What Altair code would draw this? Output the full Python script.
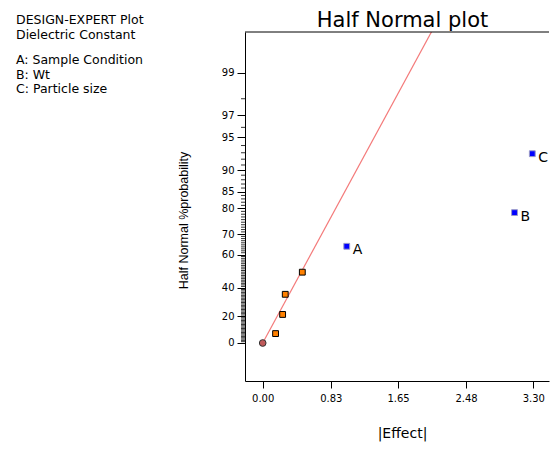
import altair as alt
import pandas as pd
from statistics import NormalDist

# ---- data ----
effects = [0.00, 0.157, 0.243, 0.275, 0.483, 1.025, 3.071, 3.288]
probs = [0.0, 7.14, 21.43, 35.71, 50.00, 64.29, 78.57, 92.86]
kinds = ["origin", "error", "error", "error", "error", "term", "term", "term"]
terms = ["", "", "", "", "", "A", "B", "C"]

line_effect = [0.0, 2.10]
line_pct = [0.0, 99.75]

y_tick_pct = [0, 20, 40, 60, 70, 80, 85, 90, 95, 97, 99]
minor_tick_pct = [p for p in range(1, 99) if p not in y_tick_pct]
x_ticks = [0.00, 0.83, 1.65, 2.48, 3.30]

header_lines = ["DESIGN-EXPERT Plot", "Dielectric Constant"]
factor_lines = ["A: Sample Condition", "B: Wt", "C: Particle size"]
chart_title = "Half Normal plot"
x_title = "|Effect|"
y_title = "Half Normal %probability"

nd = NormalDist()


def hn(p):
    return nd.inv_cdf(0.5 + p / 200.0)


df = pd.DataFrame({
    "effect": effects,
    "z": [hn(p) for p in probs],
    "kind": kinds,
    "term": terms,
})
line_df = pd.DataFrame({"effect": line_effect, "z": [hn(p) for p in line_pct]})
minor_df = pd.DataFrame({"z": [hn(p) for p in minor_tick_pct]})

y_tick_z = [hn(p) for p in y_tick_pct]
label_map = ", ".join(f"'{z:.4f}': '{p}'" for z, p in zip(y_tick_z, y_tick_pct))
label_expr = "{" + label_map + "}[format(datum.value, '.4f')]"

W, H = 304, 349
PX_PER_UNIT = 82.0
X0 = 17.7
xscale = alt.Scale(domain=[-X0 / PX_PER_UNIT, (W - X0) / PX_PER_UNIT], nice=False, zero=False)
yscale = alt.Scale(domain=[-0.362, 2.962], nice=False, zero=False)

xaxis = alt.Axis(
    values=x_ticks, format=".2f", grid=False,
    labelFont="DejaVu Sans", labelFontSize=10, labelColor="black",
    tickSize=7, tickColor="black", domainColor="black", labelPadding=5,
    title=x_title, titleFont="DejaVu Sans", titleFontSize=14,
    titleFontWeight="normal", titleColor="black",
    titleX=157, titleY=52, titleBaseline="middle", titleAlign="center",
)
yaxis = alt.Axis(
    values=y_tick_z, labelExpr=label_expr, grid=False,
    labelFont="DejaVu Sans", labelFontSize=10, labelColor="black",
    tickSize=8, tickColor="black", domainColor="black", labelPadding=3,
    title=y_title, titleFont="Liberation Sans", titleFontSize=12.5,
    titleFontWeight="normal", titleColor="black",
    titleX=-61.5, titleY=188, titleAngle=270,
    titleBaseline="middle", titleAlign="center",
)

X = alt.X("effect:Q", scale=xscale, axis=xaxis)
Y = alt.Y("z:Q", scale=yscale, axis=yaxis)

base = alt.Chart(df)

fit_line = alt.Chart(line_df).mark_line(
    color="#f47a7a", strokeWidth=1.2, clip=True
).encode(x=X, y=Y)

minor = alt.Chart(minor_df).mark_rule(color="black", strokeWidth=0.8).encode(
    y=Y, x=alt.value(-4), x2=alt.value(0)
)

origin_pt = base.transform_filter(alt.datum.kind == "origin").mark_point(
    shape="circle", filled=True, fill="#c05a5a", stroke="#333333",
    strokeWidth=1, size=45, opacity=1
).encode(x=X, y=Y)

error_pts = base.transform_filter(alt.datum.kind == "error").mark_square(
    fill="#ff8000", stroke="black", strokeWidth=1, size=34, opacity=1
).encode(x=X, y=Y)

term_pts = base.transform_filter(alt.datum.kind == "term").mark_square(
    fill="#0000ff", stroke="#9a9ac8", strokeWidth=1, size=34, opacity=1
).encode(x=X, y=Y)

term_labels = base.transform_filter(alt.datum.kind == "term").mark_text(
    align="left", baseline="middle", dx=6, dy=4,
    font="DejaVu Sans", fontSize=14, color="black"
).encode(x=X, y=Y, text="term:N")

one = alt.Data(values=[{}])

top_border = alt.Chart(one).mark_rule(color="black", strokeWidth=1).encode(
    x=alt.value(0), x2=alt.value(W), y=alt.value(0)
)

title_txt = alt.Chart(one).mark_text(
    font="DejaVu Sans", fontSize=21, align="center", baseline="alphabetic",
    color="black"
).encode(x=alt.value(157.5), y=alt.value(-4.7), text=alt.value(chart_title))

header_txt = alt.Chart(one).mark_text(
    font="DejaVu Sans", fontSize=12.5, align="left", baseline="alphabetic",
    lineHeight=14.6, color="black"
).encode(x=alt.value(-229), y=alt.value(-8), text=alt.value(header_lines))

factor_txt = alt.Chart(one).mark_text(
    font="DejaVu Sans", fontSize=12.5, align="left", baseline="alphabetic",
    lineHeight=14.6, color="black"
).encode(x=alt.value(-229), y=alt.value(32.1), text=alt.value(factor_lines))

chart = alt.layer(
    fit_line, minor, origin_pt, error_pts, term_pts, term_labels,
    top_border, title_txt, header_txt, factor_txt
).properties(
    width=W, height=H,
    autosize=alt.AutoSizeParams(type="none"),
    padding={"left": 237, "top": 24, "right": 1, "bottom": 61},
    background="white",
).configure_view(stroke=None)

chart.save("out.html", embed_options={"renderer": "svg", "actions": False})
